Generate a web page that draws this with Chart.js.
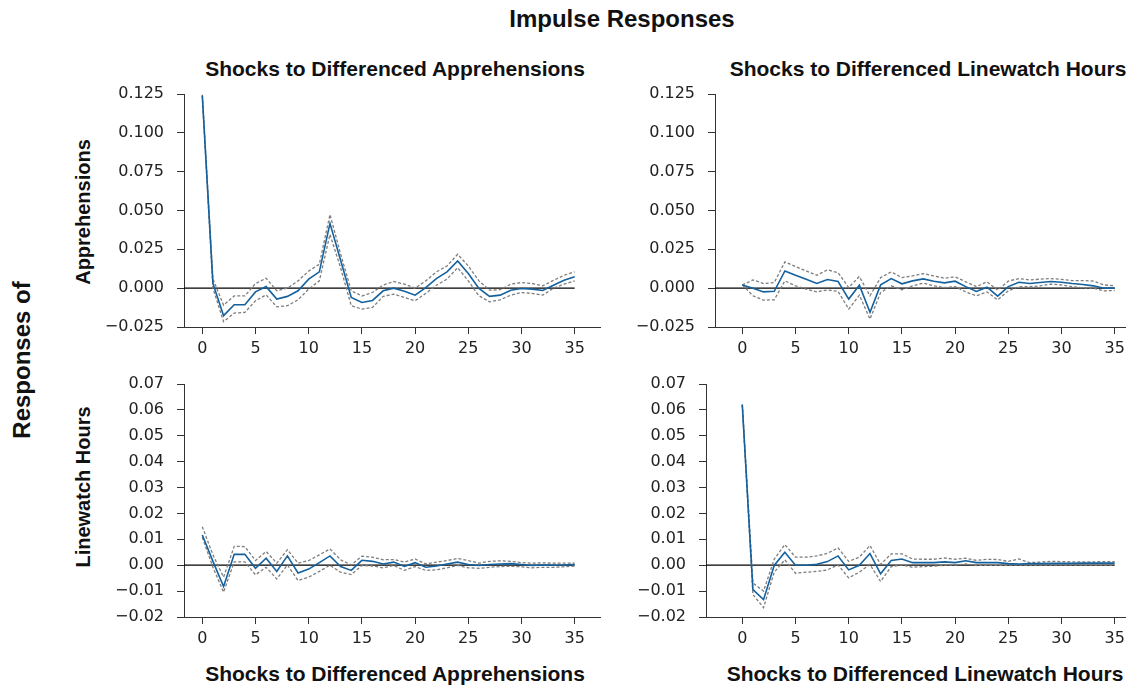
<!DOCTYPE html>
<html>
<head>
<meta charset="utf-8">
<script src="https://cdn.jsdelivr.net/npm/chart.js@4.4.1/dist/chart.umd.min.js"></script>
<style>
  body { margin: 0; background: #fff; }
  #wrap { position: relative; width: 1138px; height: 689px; overflow: hidden; font-family: "Liberation Sans", Arial, sans-serif; color: #111; }
  .lbl { position: absolute; white-space: nowrap; font-weight: bold; line-height: 1; transform: translate(-50%, -50%); }
  .rot { transform: translate(-50%, -50%) rotate(-90deg); }
  canvas { position: absolute; }
</style>
</head>
<body>
<div id="wrap">
  <div class="lbl" style="left:622px;top:19px;font-size:24px">Impulse Responses</div>
  <div class="lbl" style="left:395px;top:68px;font-size:21px">Shocks to Differenced Apprehensions</div>
  <div class="lbl" style="left:928px;top:68px;font-size:21px">Shocks to Differenced Linewatch Hours</div>
  <div class="lbl" style="left:395px;top:673px;font-size:21px">Shocks to Differenced Apprehensions</div>
  <div class="lbl" style="left:925px;top:673px;font-size:21px">Shocks to Differenced Linewatch Hours</div>
  <div class="lbl rot" style="left:22px;top:360px;font-size:24px">Responses of</div>
  <div class="lbl rot" style="left:83px;top:212px;font-size:20px">Apprehensions</div>
  <div class="lbl rot" style="left:83px;top:487px;font-size:20px">Linewatch Hours</div>
</div>
<script>
// horizon steps 0..35
const steps = Array.from({ length: 36 }, (_, i) => i);
const xTicks = [0, 5, 10, 15, 20, 25, 30, 35];
const yTicksTop = [-0.025, 0, 0.025, 0.05, 0.075, 0.1, 0.125];
const yTicksBottom = [-0.02, -0.01, 0, 0.01, 0.02, 0.03, 0.04, 0.05, 0.06, 0.07];

// apprehensions <- shock to apprehensions
const irfAA = [0.124, 0.003, -0.0177, -0.0107, -0.0107, -0.0024, 0.001, -0.007, -0.0053, -0.0017, 0.0058, 0.0105, 0.0417, 0.018, -0.006, -0.0092, -0.0079, -0.0017, 0.0, -0.002, -0.0045, 0.0004, 0.0062, 0.0105, 0.0175, 0.0094, -0.0002, -0.0053, -0.0045, -0.0013, -0.0002, -0.0006, -0.0015, 0.0019, 0.0051, 0.0073];
const upAA = [0.1245, 0.006, -0.011, -0.005, -0.005, 0.003, 0.0064, -0.0017, 0.0, 0.0047, 0.011, 0.0154, 0.0474, 0.022, -0.0017, -0.005, -0.0028, 0.002, 0.0043, 0.0026, 0.0, 0.0047, 0.0105, 0.0143, 0.0218, 0.0143, 0.0047, -0.0013, -0.001, 0.0026, 0.0036, 0.003, 0.0015, 0.005, 0.0083, 0.0105];
const loAA = [0.1235, 0.0, -0.0216, -0.016, -0.0156, -0.0081, -0.0043, -0.012, -0.0113, -0.0075, -0.0006, 0.0047, 0.0346, 0.013, -0.0113, -0.0135, -0.0124, -0.0053, -0.0038, -0.006, -0.0081, -0.0034, 0.0019, 0.0058, 0.0132, 0.0047, -0.0049, -0.0088, -0.0075, -0.0045, -0.0028, -0.0034, -0.0045, 0.0, 0.0026, 0.0047];

// apprehensions <- shock to linewatch hours
const irfAL = [0.0021, 0.0, -0.0024, -0.002, 0.0111, 0.0083, 0.0058, 0.003, 0.0056, 0.0043, -0.007, 0.0019, -0.0156, 0.0021, 0.0062, 0.0028, 0.0047, 0.006, 0.0045, 0.0034, 0.0045, 0.001, -0.0021, 0.0006, -0.0051, 0.001, 0.0038, 0.003, 0.0036, 0.0043, 0.0038, 0.003, 0.0024, 0.0015, 0.0, 0.0];
const upAL = [0.0021, 0.0053, 0.003, 0.0036, 0.0169, 0.0139, 0.0111, 0.0083, 0.0118, 0.01, 0.0004, 0.0075, -0.0049, 0.0068, 0.0105, 0.0068, 0.0079, 0.0094, 0.0079, 0.0064, 0.0073, 0.0041, 0.001, 0.0041, -0.0013, 0.0045, 0.0062, 0.0053, 0.0058, 0.0062, 0.0056, 0.0049, 0.0049, 0.0045, 0.0021, 0.0015];
const loAL = [0.0021, -0.0049, -0.0077, -0.0075, 0.0047, 0.0015, -0.0006, -0.0024, -0.0011, -0.0021, -0.0135, -0.0045, -0.0199, -0.0028, 0.0015, -0.0011, 0.0015, 0.0032, 0.0015, 0.0004, 0.001, -0.0024, -0.0049, -0.0024, -0.0075, -0.0017, 0.001, 0.0009, 0.0015, 0.0026, 0.0021, 0.001, 0.0002, 0.0, -0.0017, -0.0015];

// linewatch hours <- shock to apprehensions
const irfLA = [0.0117, 0.0015, -0.0082, 0.0042, 0.0042, -0.0012, 0.0027, -0.0024, 0.0036, -0.003, -0.0015, 0.001, 0.0036, -0.0005, -0.002, 0.0019, 0.0015, 0.0005, 0.0012, -0.0005, 0.001, -0.0008, -0.0003, 0.0005, 0.0012, 0.0003, -0.0001, 0.0003, 0.0005, 0.0006, 0.0003, -0.0001, 0.0001, 0.0, 0.0001, 0.0003];
const upLA = [0.0149, 0.004, -0.0046, 0.0073, 0.0072, 0.0018, 0.0053, 0.0008, 0.006, 0.0008, 0.0018, 0.004, 0.0063, 0.0021, 0.0001, 0.0035, 0.0031, 0.0021, 0.0022, 0.0012, 0.0024, 0.0005, 0.0012, 0.0018, 0.0026, 0.0018, 0.0008, 0.0015, 0.0017, 0.0015, 0.001, 0.0008, 0.0009, 0.0008, 0.0008, 0.0008];
const loLA = [0.0108, -0.0008, -0.0104, 0.0013, 0.0013, -0.0037, -0.0008, -0.0053, 0.0001, -0.0059, -0.0046, -0.0024, 0.0, -0.0027, -0.0036, -0.0001, -0.0003, -0.001, -0.0001, -0.002, -0.0005, -0.002, -0.0018, -0.001, -0.0001, -0.001, -0.0012, -0.0008, -0.0005, -0.0004, -0.0006, -0.001, -0.0008, -0.0008, -0.0006, -0.0003];

// linewatch hours <- shock to linewatch hours
const irfLL = [0.062, -0.0094, -0.0133, -0.0001, 0.005, 0.0, 0.0, 0.0004, 0.0014, 0.0036, -0.0018, 0.0, 0.0045, -0.0033, 0.0018, 0.0024, 0.001, 0.001, 0.001, 0.0013, 0.001, 0.0017, 0.001, 0.001, 0.001, 0.0006, 0.0005, 0.0006, 0.0006, 0.0007, 0.0007, 0.0007, 0.0008, 0.0008, 0.0008, 0.0008];
const upLL = [0.0622, -0.0069, -0.01, 0.0023, 0.008, 0.0031, 0.0031, 0.0036, 0.0046, 0.0067, 0.0015, 0.0031, 0.0076, 0.0003, 0.0044, 0.0044, 0.0024, 0.0023, 0.0023, 0.0028, 0.0023, 0.0027, 0.0019, 0.0023, 0.0022, 0.0015, 0.0024, 0.001, 0.0012, 0.0015, 0.0014, 0.0013, 0.0013, 0.0013, 0.0014, 0.0014];
const loLL = [0.0618, -0.0113, -0.0164, -0.0027, 0.0021, -0.0031, -0.0027, -0.0024, -0.0018, 0.0001, -0.0049, -0.0027, 0.0003, -0.0063, -0.0005, 0.0001, -0.0008, -0.0005, -0.0004, 0.0, 0.0, 0.0005, -0.0001, 0.0, -0.0001, 0.0, 0.0, 0.0, 0.0, 0.0, 0.0, 0.0, 0.0, 0.0, 0.0, 0.0];

const BLUE = '#14619e';
const GRAY = '#7d7d7d';
const AXIS = '#333';
const tickFont = { family: 'DejaVu Sans', size: 16 };

// plot-area boxes in page pixels
const panels = [
  { left: 184, top: 94, right: 600, bottom: 327, xMin: -1.72, xMax: 37.38, yTicks: yTicksTop, dec: 3, irf: irfAA, up: upAA, lo: loAA },
  { left: 715, top: 94, right: 1125, bottom: 327, xMin: -2.57, xMax: 35.97, yTicks: yTicksTop, dec: 3, irf: irfAL, up: upAL, lo: loAL },
  { left: 184, top: 384, right: 600, bottom: 617, xMin: -1.72, xMax: 37.38, yTicks: yTicksBottom, dec: 2, irf: irfLA, up: upLA, lo: loLA },
  { left: 706, top: 384, right: 1125, bottom: 617, xMin: -3.41, xMax: 35.97, yTicks: yTicksBottom, dec: 2, irf: irfLL, up: upLL, lo: loLL },
];

function xy(values) {
  return steps.map((s, i) => ({ x: s, y: values[i] }));
}

function fmtTick(v, dec) {
  const txt = Math.abs(v).toFixed(dec);
  return v < 0 ? '\u2212' + txt : txt;
}

function makePanel(p) {
  // padTop must exceed the y scale's own label padding (half label + tick padding)
  const padTop = 30, padRight = 14, yW = 100, xH = 40;
  const canvas = document.createElement('canvas');
  canvas.width = yW + (p.right - p.left) + padRight;
  canvas.height = padTop + (p.bottom - p.top) + xH;
  canvas.style.left = (p.left - yW) + 'px';
  canvas.style.top = (p.top - padTop) + 'px';
  document.getElementById('wrap').appendChild(canvas);

  const yMin = p.yTicks[0];
  const yMax = p.yTicks[p.yTicks.length - 1];

  new Chart(canvas, {
    type: 'line',
    data: {
      datasets: [
        { data: xy(p.irf), borderColor: BLUE, borderWidth: 1.6 },
        { data: xy(p.up), borderColor: GRAY, borderWidth: 1.3, borderDash: [3, 2] },
        { data: xy(p.lo), borderColor: GRAY, borderWidth: 1.3, borderDash: [3, 2] },
        { data: [{ x: p.xMin, y: 0 }, { x: 35, y: 0 }], borderColor: '#000', borderWidth: 1.2 },
      ],
    },
    options: {
      responsive: false,
      animation: false,
      events: [],
      layout: { padding: { top: padTop, right: padRight, bottom: 0, left: 0 } },
      elements: { point: { radius: 0 }, line: { tension: 0, fill: false } },
      plugins: { legend: { display: false }, tooltip: { enabled: false } },
      scales: {
        x: {
          type: 'linear',
          min: p.xMin,
          max: p.xMax,
          afterBuildTicks: (s) => { s.ticks = xTicks.map((v) => ({ value: v })); },
          afterFit: (s) => { s.height = xH; },
          ticks: { font: tickFont, color: '#222', padding: 5, maxRotation: 0, autoSkip: false, callback: (v) => String(v) },
          grid: { drawOnChartArea: false, tickLength: 7, color: AXIS },
          border: { color: AXIS, width: 1 },
        },
        y: {
          min: yMin,
          max: yMax,
          afterBuildTicks: (s) => { s.ticks = p.yTicks.map((v) => ({ value: v })); },
          afterFit: (s) => { s.width = yW; },
          ticks: { font: tickFont, color: '#222', padding: 13, autoSkip: false, callback: (v) => fmtTick(v, p.dec) },
          grid: { drawOnChartArea: false, tickLength: 7, color: AXIS },
          border: { color: AXIS, width: 1 },
        },
      },
    },
  });
}

panels.forEach(makePanel);
</script>
</body>
</html>
